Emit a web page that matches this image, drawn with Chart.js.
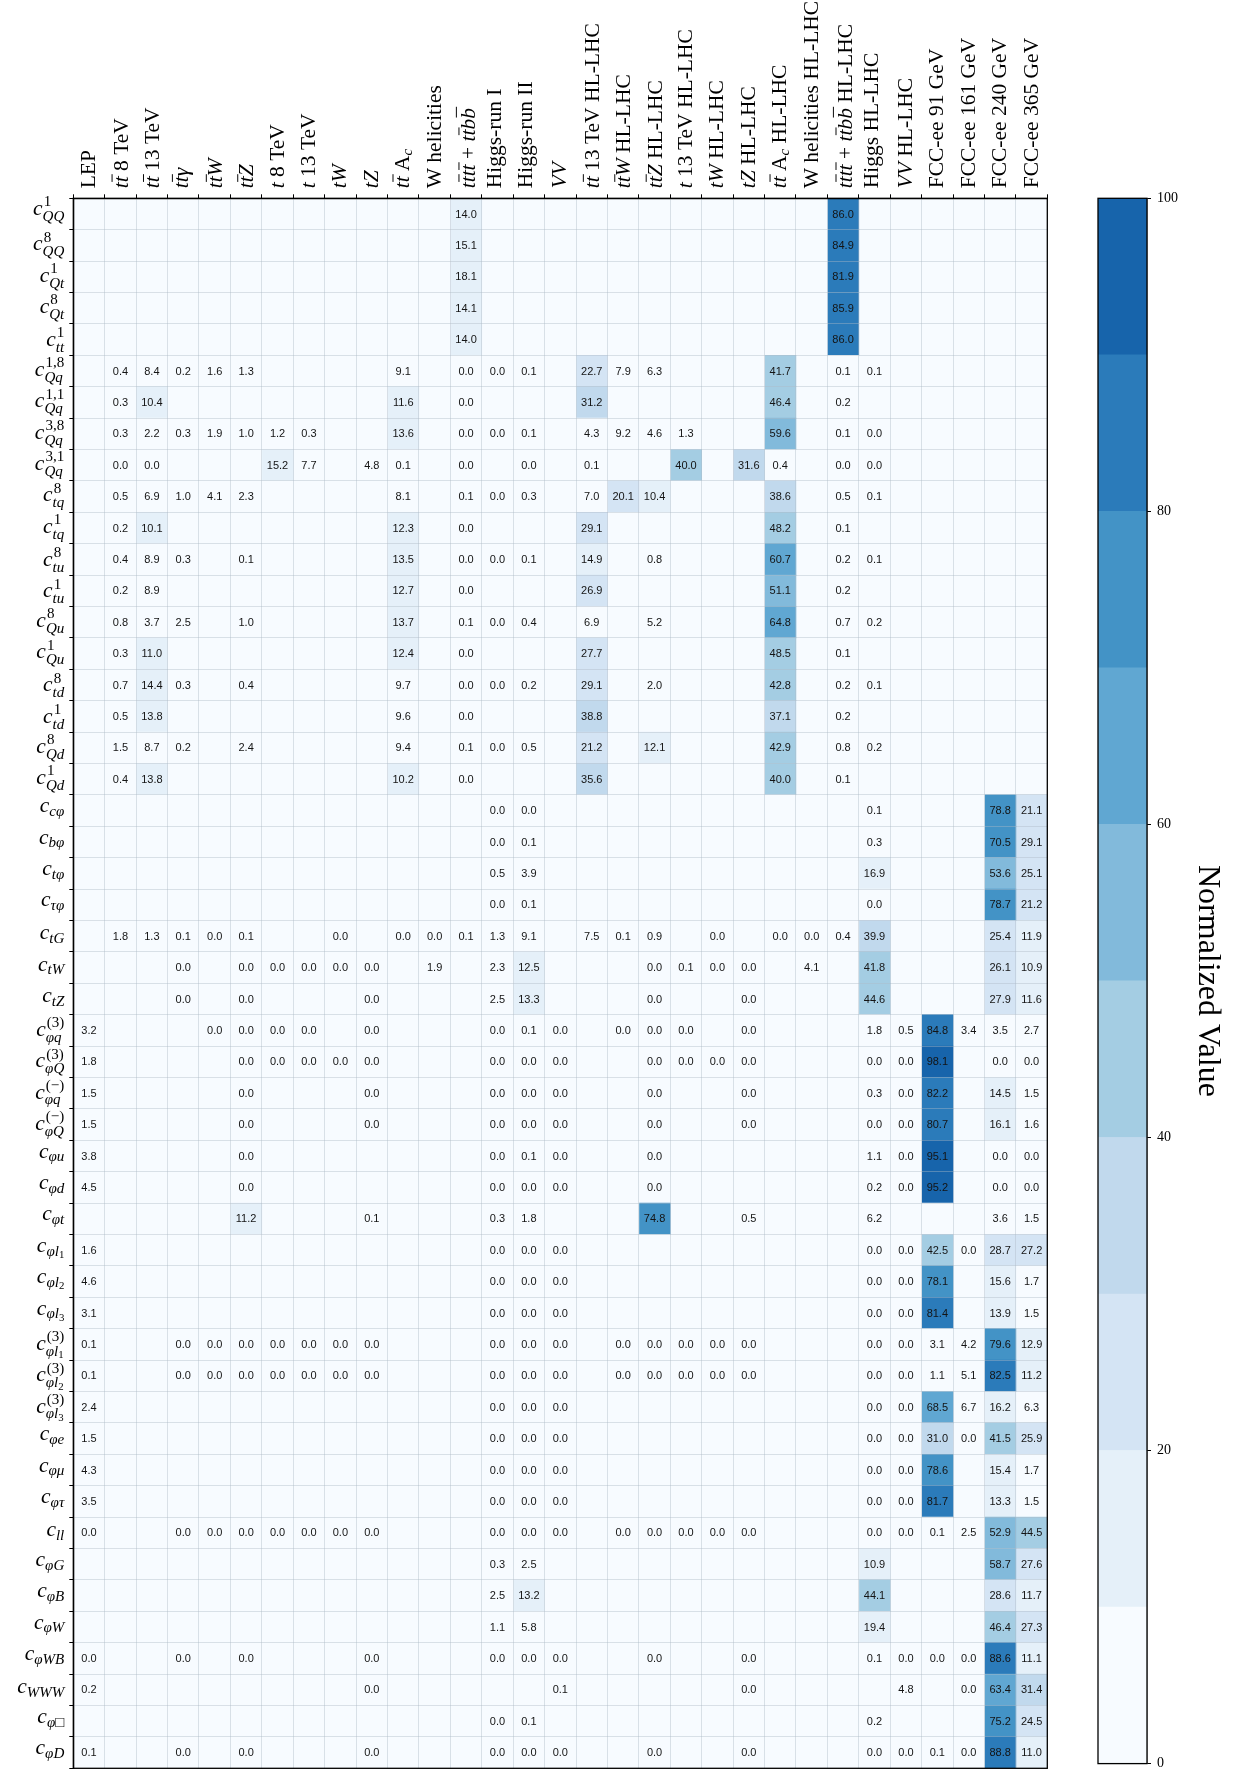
<!DOCTYPE html>
<html>
<head>
<meta charset="utf-8">
<script src="https://cdn.jsdelivr.net/npm/chart.js@4/dist/chart.umd.min.js"></script>
<style>
html, body { margin: 0; padding: 0; background: #fff; overflow: hidden; }
#wrap { position: relative; width: 1233px; height: 1775px; }
#main { position: absolute; left: 0; top: 0; }
#cbar { position: absolute; left: 1060px; top: 0; }
</style>
</head>
<body>
<div id="wrap">
  <canvas id="main" width="1233" height="1775"></canvas>
  <canvas id="cbar" width="173" height="1778"></canvas>
</div>
<script>
// ---------------- DATA ----------------
const _ = null;

// column categories (datasets)
const columns = [
  'LEP', '$t\\bar{t}$ 8 TeV', '$t\\bar{t}$ 13 TeV', '$t\\bar{t}\\gamma$', '$t\\bar{t}W$',
  '$t\\bar{t}Z$', '$t$ 8 TeV', '$t$ 13 TeV', '$tW$', '$tZ$',
  '$t\\bar{t}$ A$_c$', 'W helicities', '$t\\bar{t}t\\bar{t}+t\\bar{t}b\\bar{b}$', 'Higgs-run I', 'Higgs-run II',
  '$VV$', '$t\\bar{t}$ 13 TeV HL-LHC', '$t\\bar{t}W$ HL-LHC', '$t\\bar{t}Z$ HL-LHC', '$t$ 13 TeV HL-LHC',
  '$tW$ HL-LHC', '$tZ$ HL-LHC', '$t\\bar{t}$ A$_c$ HL-LHC', 'W helicities HL-LHC', '$t\\bar{t}t\\bar{t}+t\\bar{t}b\\bar{b}$ HL-LHC',
  'Higgs HL-LHC', '$VV$ HL-LHC', 'FCC-ee 91 GeV', 'FCC-ee 161 GeV', 'FCC-ee 240 GeV',
  'FCC-ee 365 GeV'
];

// row categories (Wilson coefficients)
const rows = [
  '$c_{QQ}^{1}$', '$c_{QQ}^{8}$', '$c_{Qt}^{1}$', '$c_{Qt}^{8}$', '$c_{tt}^{1}$',
  '$c_{Qq}^{1,8}$', '$c_{Qq}^{1,1}$', '$c_{Qq}^{3,8}$', '$c_{Qq}^{3,1}$',
  '$c_{tq}^{8}$', '$c_{tq}^{1}$', '$c_{tu}^{8}$', '$c_{tu}^{1}$', '$c_{Qu}^{8}$', '$c_{Qu}^{1}$',
  '$c_{td}^{8}$', '$c_{td}^{1}$', '$c_{Qd}^{8}$', '$c_{Qd}^{1}$',
  '$c_{c\\varphi}$', '$c_{b\\varphi}$', '$c_{t\\varphi}$', '$c_{\\tau\\varphi}$',
  '$c_{tG}$', '$c_{tW}$', '$c_{tZ}$',
  '$c_{\\varphi q}^{(3)}$', '$c_{\\varphi Q}^{(3)}$', '$c_{\\varphi q}^{(-)}$', '$c_{\\varphi Q}^{(-)}$',
  '$c_{\\varphi u}$', '$c_{\\varphi d}$', '$c_{\\varphi t}$',
  '$c_{\\varphi l_1}$', '$c_{\\varphi l_2}$', '$c_{\\varphi l_3}$',
  '$c_{\\varphi l_1}^{(3)}$', '$c_{\\varphi l_2}^{(3)}$', '$c_{\\varphi l_3}^{(3)}$',
  '$c_{\\varphi e}$', '$c_{\\varphi \\mu}$', '$c_{\\varphi \\tau}$', '$c_{ll}$',
  '$c_{\\varphi G}$', '$c_{\\varphi B}$', '$c_{\\varphi W}$', '$c_{\\varphi WB}$', '$c_{WWW}$',
  '$c_{\\varphi \\Box}$', '$c_{\\varphi D}$'
];

// values per row, 31 entries each (one per column), null = empty cell
const cQQ1    = [_,_,_,_,_, _,_,_,_,_, _,_,14.0,_,_, _,_,_,_,_, _,_,_,_,86.0, _,_,_,_,_, _];
const cQQ8    = [_,_,_,_,_, _,_,_,_,_, _,_,15.1,_,_, _,_,_,_,_, _,_,_,_,84.9, _,_,_,_,_, _];
const cQt1    = [_,_,_,_,_, _,_,_,_,_, _,_,18.1,_,_, _,_,_,_,_, _,_,_,_,81.9, _,_,_,_,_, _];
const cQt8    = [_,_,_,_,_, _,_,_,_,_, _,_,14.1,_,_, _,_,_,_,_, _,_,_,_,85.9, _,_,_,_,_, _];
const ctt1    = [_,_,_,_,_, _,_,_,_,_, _,_,14.0,_,_, _,_,_,_,_, _,_,_,_,86.0, _,_,_,_,_, _];
const cQq18   = [_,0.4,8.4,0.2,1.6, 1.3,_,_,_,_, 9.1,_,0.0,0.0,0.1, _,22.7,7.9,6.3,_, _,_,41.7,_,0.1, 0.1,_,_,_,_, _];
const cQq11   = [_,0.3,10.4,_,_, _,_,_,_,_, 11.6,_,0.0,_,_, _,31.2,_,_,_, _,_,46.4,_,0.2, _,_,_,_,_, _];
const cQq38   = [_,0.3,2.2,0.3,1.9, 1.0,1.2,0.3,_,_, 13.6,_,0.0,0.0,0.1, _,4.3,9.2,4.6,1.3, _,_,59.6,_,0.1, 0.0,_,_,_,_, _];
const cQq31   = [_,0.0,0.0,_,_, _,15.2,7.7,_,4.8, 0.1,_,0.0,_,0.0, _,0.1,_,_,40.0, _,31.6,0.4,_,0.0, 0.0,_,_,_,_, _];
const ctq8    = [_,0.5,6.9,1.0,4.1, 2.3,_,_,_,_, 8.1,_,0.1,0.0,0.3, _,7.0,20.1,10.4,_, _,_,38.6,_,0.5, 0.1,_,_,_,_, _];
const ctq1    = [_,0.2,10.1,_,_, _,_,_,_,_, 12.3,_,0.0,_,_, _,29.1,_,_,_, _,_,48.2,_,0.1, _,_,_,_,_, _];
const ctu8    = [_,0.4,8.9,0.3,_, 0.1,_,_,_,_, 13.5,_,0.0,0.0,0.1, _,14.9,_,0.8,_, _,_,60.7,_,0.2, 0.1,_,_,_,_, _];
const ctu1    = [_,0.2,8.9,_,_, _,_,_,_,_, 12.7,_,0.0,_,_, _,26.9,_,_,_, _,_,51.1,_,0.2, _,_,_,_,_, _];
const cQu8    = [_,0.8,3.7,2.5,_, 1.0,_,_,_,_, 13.7,_,0.1,0.0,0.4, _,6.9,_,5.2,_, _,_,64.8,_,0.7, 0.2,_,_,_,_, _];
const cQu1    = [_,0.3,11.0,_,_, _,_,_,_,_, 12.4,_,0.0,_,_, _,27.7,_,_,_, _,_,48.5,_,0.1, _,_,_,_,_, _];
const ctd8    = [_,0.7,14.4,0.3,_, 0.4,_,_,_,_, 9.7,_,0.0,0.0,0.2, _,29.1,_,2.0,_, _,_,42.8,_,0.2, 0.1,_,_,_,_, _];
const ctd1    = [_,0.5,13.8,_,_, _,_,_,_,_, 9.6,_,0.0,_,_, _,38.8,_,_,_, _,_,37.1,_,0.2, _,_,_,_,_, _];
const cQd8    = [_,1.5,8.7,0.2,_, 2.4,_,_,_,_, 9.4,_,0.1,0.0,0.5, _,21.2,_,12.1,_, _,_,42.9,_,0.8, 0.2,_,_,_,_, _];
const cQd1    = [_,0.4,13.8,_,_, _,_,_,_,_, 10.2,_,0.0,_,_, _,35.6,_,_,_, _,_,40.0,_,0.1, _,_,_,_,_, _];
const ccphi   = [_,_,_,_,_, _,_,_,_,_, _,_,_,0.0,0.0, _,_,_,_,_, _,_,_,_,_, 0.1,_,_,_,78.8, 21.1];
const cbphi   = [_,_,_,_,_, _,_,_,_,_, _,_,_,0.0,0.1, _,_,_,_,_, _,_,_,_,_, 0.3,_,_,_,70.5, 29.1];
const ctphi   = [_,_,_,_,_, _,_,_,_,_, _,_,_,0.5,3.9, _,_,_,_,_, _,_,_,_,_, 16.9,_,_,_,53.6, 25.1];
const ctauphi = [_,_,_,_,_, _,_,_,_,_, _,_,_,0.0,0.1, _,_,_,_,_, _,_,_,_,_, 0.0,_,_,_,78.7, 21.2];
const ctG     = [_,1.8,1.3,0.1,0.0, 0.1,_,_,0.0,_, 0.0,0.0,0.1,1.3,9.1, _,7.5,0.1,0.9,_, 0.0,_,0.0,0.0,0.4, 39.9,_,_,_,25.4, 11.9];
const ctW     = [_,_,_,0.0,_, 0.0,0.0,0.0,0.0,0.0, _,1.9,_,2.3,12.5, _,_,_,0.0,0.1, 0.0,0.0,_,4.1,_, 41.8,_,_,_,26.1, 10.9];
const ctZ     = [_,_,_,0.0,_, 0.0,_,_,_,0.0, _,_,_,2.5,13.3, _,_,_,0.0,_, _,0.0,_,_,_, 44.6,_,_,_,27.9, 11.6];
const cphiq3  = [3.2,_,_,_,0.0, 0.0,0.0,0.0,_,0.0, _,_,_,0.0,0.1, 0.0,_,0.0,0.0,0.0, _,0.0,_,_,_, 1.8,0.5,84.8,3.4,3.5, 2.7];
const cphiQ3  = [1.8,_,_,_,_, 0.0,0.0,0.0,0.0,0.0, _,_,_,0.0,0.0, 0.0,_,_,0.0,0.0, 0.0,0.0,_,_,_, 0.0,0.0,98.1,_,0.0, 0.0];
const cphiqm  = [1.5,_,_,_,_, 0.0,_,_,_,0.0, _,_,_,0.0,0.0, 0.0,_,_,0.0,_, _,0.0,_,_,_, 0.3,0.0,82.2,_,14.5, 1.5];
const cphiQm  = [1.5,_,_,_,_, 0.0,_,_,_,0.0, _,_,_,0.0,0.0, 0.0,_,_,0.0,_, _,0.0,_,_,_, 0.0,0.0,80.7,_,16.1, 1.6];
const cphiu   = [3.8,_,_,_,_, 0.0,_,_,_,_, _,_,_,0.0,0.1, 0.0,_,_,0.0,_, _,_,_,_,_, 1.1,0.0,95.1,_,0.0, 0.0];
const cphid   = [4.5,_,_,_,_, 0.0,_,_,_,_, _,_,_,0.0,0.0, 0.0,_,_,0.0,_, _,_,_,_,_, 0.2,0.0,95.2,_,0.0, 0.0];
const cphit   = [_,_,_,_,_, 11.2,_,_,_,0.1, _,_,_,0.3,1.8, _,_,_,74.8,_, _,0.5,_,_,_, 6.2,_,_,_,3.6, 1.5];
const cphil1  = [1.6,_,_,_,_, _,_,_,_,_, _,_,_,0.0,0.0, 0.0,_,_,_,_, _,_,_,_,_, 0.0,0.0,42.5,0.0,28.7, 27.2];
const cphil2  = [4.6,_,_,_,_, _,_,_,_,_, _,_,_,0.0,0.0, 0.0,_,_,_,_, _,_,_,_,_, 0.0,0.0,78.1,_,15.6, 1.7];
const cphil3  = [3.1,_,_,_,_, _,_,_,_,_, _,_,_,0.0,0.0, 0.0,_,_,_,_, _,_,_,_,_, 0.0,0.0,81.4,_,13.9, 1.5];
const cphil1t = [0.1,_,_,0.0,0.0, 0.0,0.0,0.0,0.0,0.0, _,_,_,0.0,0.0, 0.0,_,0.0,0.0,0.0, 0.0,0.0,_,_,_, 0.0,0.0,3.1,4.2,79.6, 12.9];
const cphil2t = [0.1,_,_,0.0,0.0, 0.0,0.0,0.0,0.0,0.0, _,_,_,0.0,0.0, 0.0,_,0.0,0.0,0.0, 0.0,0.0,_,_,_, 0.0,0.0,1.1,5.1,82.5, 11.2];
const cphil3t = [2.4,_,_,_,_, _,_,_,_,_, _,_,_,0.0,0.0, 0.0,_,_,_,_, _,_,_,_,_, 0.0,0.0,68.5,6.7,16.2, 6.3];
const cphie   = [1.5,_,_,_,_, _,_,_,_,_, _,_,_,0.0,0.0, 0.0,_,_,_,_, _,_,_,_,_, 0.0,0.0,31.0,0.0,41.5, 25.9];
const cphimu  = [4.3,_,_,_,_, _,_,_,_,_, _,_,_,0.0,0.0, 0.0,_,_,_,_, _,_,_,_,_, 0.0,0.0,78.6,_,15.4, 1.7];
const cphitau = [3.5,_,_,_,_, _,_,_,_,_, _,_,_,0.0,0.0, 0.0,_,_,_,_, _,_,_,_,_, 0.0,0.0,81.7,_,13.3, 1.5];
const cll     = [0.0,_,_,0.0,0.0, 0.0,0.0,0.0,0.0,0.0, _,_,_,0.0,0.0, 0.0,_,0.0,0.0,0.0, 0.0,0.0,_,_,_, 0.0,0.0,0.1,2.5,52.9, 44.5];
const cphiG   = [_,_,_,_,_, _,_,_,_,_, _,_,_,0.3,2.5, _,_,_,_,_, _,_,_,_,_, 10.9,_,_,_,58.7, 27.6];
const cphiB   = [_,_,_,_,_, _,_,_,_,_, _,_,_,2.5,13.2, _,_,_,_,_, _,_,_,_,_, 44.1,_,_,_,28.6, 11.7];
const cphiW   = [_,_,_,_,_, _,_,_,_,_, _,_,_,1.1,5.8, _,_,_,_,_, _,_,_,_,_, 19.4,_,_,_,46.4, 27.3];
const cphiWB  = [0.0,_,_,0.0,_, 0.0,_,_,_,0.0, _,_,_,0.0,0.0, 0.0,_,_,0.0,_, _,0.0,_,_,_, 0.1,0.0,0.0,0.0,88.6, 11.1];
const cWWW    = [0.2,_,_,_,_, _,_,_,_,0.0, _,_,_,_,_, 0.1,_,_,_,_, _,0.0,_,_,_, _,4.8,_,0.0,63.4, 31.4];
const cphiBox = [_,_,_,_,_, _,_,_,_,_, _,_,_,0.0,0.1, _,_,_,_,_, _,_,_,_,_, 0.2,_,_,_,75.2, 24.5];
const cphiD   = [0.1,_,_,0.0,_, 0.0,_,_,_,0.0, _,_,_,0.0,0.0, 0.0,_,_,0.0,_, _,0.0,_,_,_, 0.0,0.0,0.1,0.0,88.8, 11.0];

const rowValues = [
  cQQ1, cQQ8, cQt1, cQt8, ctt1,
  cQq18, cQq11, cQq38, cQq31,
  ctq8, ctq1, ctu8, ctu1, cQu8, cQu1, ctd8, ctd1, cQd8, cQd1,
  ccphi, cbphi, ctphi, ctauphi,
  ctG, ctW, ctZ,
  cphiq3, cphiQ3, cphiqm, cphiQm, cphiu, cphid, cphit,
  cphil1, cphil2, cphil3, cphil1t, cphil2t, cphil3t,
  cphie, cphimu, cphitau, cll,
  cphiG, cphiB, cphiW, cphiWB, cWWW, cphiBox, cphiD
];

// discrete colour scale
const binEdges  = [0, 10, 20, 30, 40, 50, 60, 70, 80, 90, 100];
const binColors = ['#f7fbff', '#e5f0f9', '#d4e4f4', '#c1d9ed', '#a4cde3',
                   '#82badb', '#60a7d2', '#4393c6', '#2b7bba', '#1764ab'];
const colorbarTicks = [0, 20, 40, 60, 80, 100];
const colorbarLabel = 'Normalized Value';

// ---------------- STYLE ----------------
const SERIF = '"Liberation Serif", "Times New Roman", serif';
const SANS = '"Liberation Sans", Arial, sans-serif';
const ROW_FONT = 21.5;
const COL_FONT = 21.5;
const GRID_COLOR = 'rgba(175,185,198,0.42)';

function colorFor(v) {
  const x = (v === null || v === undefined) ? 0 : v;
  let k = binEdges.findIndex((e, i) => i < binEdges.length - 1 && x >= e && x < binEdges[i + 1]);
  if (k < 0) k = x >= binEdges[binEdges.length - 1] ? binColors.length - 1 : 0;
  return binColors[k];
}

// ---------------- mini TeX-like label renderer ----------------
const SYM = { varphi: '\u03C6', tau: '\u03C4', mu: '\u03BC', gamma: '\u03B3', Box: '\u25A1' };
const SYM_IT = { varphi: true, tau: true, mu: true, gamma: true, Box: false };

function parseLabel(src) {
  let i = 0;
  function push(out, node) {
    const last = out[out.length - 1];
    if (node.t === 'txt' && last && last.t === 'txt' && last.it === node.it) last.s += node.s;
    else out.push(node);
  }
  function charNode(ch) {
    if (/[A-Za-z]/.test(ch)) return { t: 'txt', s: ch, it: true };
    if (ch === '-') return { t: 'txt', s: '\u2212', it: false };
    return { t: 'txt', s: ch, it: false };
  }
  function cmd() {
    const m = /^\\([A-Za-z]+)/.exec(src.slice(i));
    i += m[0].length;
    const name = m[1];
    if (name === 'bar') return { t: 'bar', kids: group() };
    return { t: 'txt', s: SYM[name] || name, it: !!SYM_IT[name] };
  }
  function group() {
    if (src[i] === '{') { i++; return seq(true, '}'); }
    if (src[i] === '\\') return [cmd()];
    return [charNode(src[i++])];
  }
  function seq(math, end) {
    const out = [];
    while (i < src.length) {
      const ch = src[i];
      if (end && ch === end) { i++; return out; }
      if (ch === '$') { math = !math; i++; continue; }
      if (!math) { push(out, { t: 'txt', s: ch, it: false }); i++; continue; }
      if (ch === '\\') { out.push(cmd()); continue; }
      if (ch === '_' || ch === '^') {
        i++;
        const g = group();
        let last = out[out.length - 1];
        if (!last || last.t !== 'scr') { last = { t: 'scr', sub: null, sup: null }; out.push(last); }
        if (ch === '_') last.sub = g; else last.sup = g;
        continue;
      }
      if (ch === ' ') { i++; continue; }
      if (ch === '+') { push(out, { t: 'txt', s: ' + ', it: false }); i++; continue; }
      push(out, charNode(ch)); i++;
    }
    return out;
  }
  return seq(false, null);
}

function fontStr(it, size) { return (it ? 'italic ' : '') + size.toFixed(2) + 'px ' + SERIF; }

function layoutNodes(ctx, nodes, size, x, dy, items, level) {
  for (const n of nodes) {
    if (n.t === 'txt') {
      const f = fontStr(n.it, size);
      ctx.font = f;
      const m = ctx.measureText(n.s);
      const asc = n.s.trim() ? m.actualBoundingBoxAscent : 0;
      const desc = n.s.trim() ? m.actualBoundingBoxDescent : 0;
      items.push({ s: n.s, f, x, dy, top: dy - asc, bottom: dy + desc });
      x += m.width;
    } else if (n.t === 'bar') {
      const x0 = x;
      x = layoutNodes(ctx, n.kids, size, x, dy, items, level);
      const letter = (n.kids[0] && n.kids[0].s) || 't';
      const h = letter === 't' ? 0.73 : 0.85;
      const cx = (x0 + x) / 2 + 0.06 * size;
      const bw = Math.max(x - x0, 0.36 * size);
      const lw = Math.max(0.9, 0.045 * size);
      const y = dy - h * size;
      items.push({ bar: true, x0: cx - bw / 2, x1: cx + bw / 2, y, lw, top: y - lw, bottom: y + lw });
    } else if (n.t === 'scr') {
      const ss = size * (level === 0 ? 0.7 : 0.72);
      let w1 = 0, w2 = 0;
      if (n.sup) {
        const sx = x + 0.05 * size;
        w1 = layoutNodes(ctx, n.sup, ss, sx, dy - 0.40 * size, items, level + 1) - x;
      }
      if (n.sub) {
        const shift = n.sup ? 0.27 * size : 0.17 * size;
        w2 = layoutNodes(ctx, n.sub, ss, x, dy + shift, items, level + 1) - x;
      }
      x += Math.max(w1, w2);
    }
  }
  return x;
}

function buildLabel(ctx, src, size) {
  const items = [];
  const width = layoutNodes(ctx, parseLabel(src), size, 0, 0, items, 0);
  let top = Infinity, bottom = -Infinity;
  for (const it of items) { top = Math.min(top, it.top); bottom = Math.max(bottom, it.bottom); }
  return { items, width, top, bottom };
}

function drawLabel(ctx, L, ox, oy) {
  ctx.textAlign = 'left';
  ctx.textBaseline = 'alphabetic';
  ctx.fillStyle = '#000';
  ctx.strokeStyle = '#000';
  for (const it of L.items) {
    if (it.bar) {
      ctx.lineWidth = it.lw;
      ctx.beginPath();
      ctx.moveTo(ox + it.x0, oy + it.y);
      ctx.lineTo(ox + it.x1, oy + it.y);
      ctx.stroke();
    } else {
      ctx.font = it.f;
      ctx.fillText(it.s, ox + it.x, oy + it.dy);
    }
  }
}

// ---------------- main heat map ----------------
const heatPlugin = {
  id: 'heatText',
  beforeDraw(chart) {
    const ctx = chart.ctx;
    ctx.save(); ctx.fillStyle = '#fff'; ctx.fillRect(0, 0, chart.width, chart.height); ctx.restore();
  },
  afterDraw(chart) {
    const { ctx, chartArea: a } = chart;
    const xs = chart.scales.x, ys = chart.scales.y;
    ctx.save();
    // cell values
    ctx.font = '11px ' + SANS;
    ctx.fillStyle = '#141414';
    ctx.textAlign = 'center';
    ctx.textBaseline = 'middle';
    rowValues.forEach((vals, r) => {
      const py = ys.getPixelForValue(r);
      vals.forEach((v, c) => {
        if (v === null) return;
        ctx.fillText(v.toFixed(1), xs.getPixelForValue(c + 0.5), py + 0.5);
      });
    });
    // frame
    ctx.strokeStyle = '#000';
    ctx.lineWidth = 1.3;
    ctx.strokeRect(a.left, a.top, a.right - a.left, a.bottom - a.top);
    // row labels
    rows.forEach((lab, r) => {
      const L = buildLabel(ctx, lab, ROW_FONT);
      const py = ys.getPixelForValue(r);
      drawLabel(ctx, L, a.left - 9 - L.width, py - (L.top + L.bottom) / 2);
    });
    // column labels (rotated)
    columns.forEach((lab, c) => {
      const L = buildLabel(ctx, lab, COL_FONT);
      const px = xs.getPixelForValue(c + 0.5);
      ctx.save();
      ctx.translate(px - 1, a.top - 10);
      ctx.rotate(-Math.PI / 2);
      drawLabel(ctx, L, 0, -(L.top + L.bottom) / 2);
      ctx.restore();
    });
    ctx.restore();
  }
};

const heatDatasets = columns.map((name, c) => ({
  label: name,
  data: rows.map(() => 1),
  backgroundColor: rowValues.map(rv => colorFor(rv[c])),
  borderWidth: 0,
  barPercentage: 1,
  categoryPercentage: 1
}));

new Chart(document.getElementById('main'), {
  type: 'bar',
  data: { labels: rows, datasets: heatDatasets },
  options: {
    indexAxis: 'y',
    responsive: false,
    animation: false,
    devicePixelRatio: 1,
    events: [],
    layout: { padding: { left: 69.3, top: 194.3, right: 185.7, bottom: 6.7 } },
    plugins: { legend: { display: false }, tooltip: { enabled: false } },
    scales: {
      x: {
        type: 'linear', position: 'top', stacked: true, min: 0, max: columns.length,
        ticks: { display: false, stepSize: 1, maxTicksLimit: 100 },
        grid: { z: 1, color: GRID_COLOR, lineWidth: 1, drawTicks: true, tickLength: 4, tickColor: '#000', tickWidth: 1 },
        border: { display: true, color: '#000', width: 1.3, z: 2 }
      },
      y: {
        type: 'category', position: 'left', stacked: true, offset: true,
        ticks: { display: false },
        grid: { z: 1, offset: true, color: GRID_COLOR, lineWidth: 1, drawTicks: true, tickLength: 4, tickColor: '#000', tickWidth: 1 },
        border: { display: true, color: '#000', width: 1.3, z: 2 }
      }
    }
  },
  plugins: [heatPlugin]
});

// ---------------- colour bar ----------------
const cbarFrame = {
  id: 'cbarFrame',
  afterDraw(chart) {
    const { ctx, chartArea: a } = chart;
    ctx.save();
    ctx.strokeStyle = '#000';
    ctx.lineWidth = 1.3;
    ctx.strokeRect(a.left, a.top, a.right - a.left, a.bottom - a.top);
    ctx.restore();
  }
};

new Chart(document.getElementById('cbar'), {
  type: 'bar',
  data: {
    labels: ['scale'],
    datasets: binColors.map((col, k) => ({
      data: [binEdges[k + 1] - binEdges[k]],
      backgroundColor: col,
      borderWidth: 0,
      barPercentage: 1,
      categoryPercentage: 1
    }))
  },
  options: {
    responsive: false,
    animation: false,
    devicePixelRatio: 1,
    events: [],
    layout: { padding: { left: 38, top: 198.3, right: 2.8, bottom: 9.7 } },
    plugins: { legend: { display: false }, tooltip: { enabled: false } },
    scales: {
      x: { display: false, stacked: true },
      y: {
        stacked: true, min: 0, max: 100, position: 'right',
        afterBuildTicks: (s) => { s.ticks = colorbarTicks.map(v => ({ value: v })); },
        afterFit: (s) => { s.width = 83.2; },
        ticks: { color: '#000', padding: 6, font: { family: SERIF, size: 14 } },
        grid: { drawOnChartArea: false, drawTicks: true, tickLength: 4, tickColor: '#000', tickWidth: 1 },
        border: { display: true, color: '#000', width: 1.3 },
        title: {
          display: true, text: colorbarLabel, color: '#000',
          font: { family: SERIF, size: 32 },
          padding: { top: 4, bottom: 3.8 }
        }
      }
    }
  },
  plugins: [cbarFrame]
});
</script>
</body>
</html>
